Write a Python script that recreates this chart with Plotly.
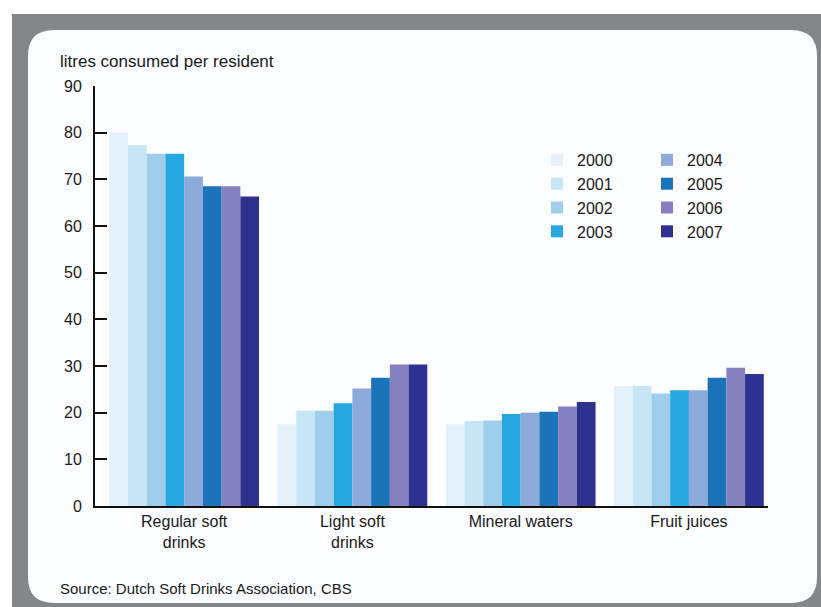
import plotly.graph_objects as go

categories = ["Regular soft<br>drinks", "Light soft<br>drinks", "Mineral waters", "Fruit juices"]
years = ["2000", "2001", "2002", "2003", "2004", "2005", "2006", "2007"]
values = {
    "2000": [80.0, 17.5, 17.5, 25.7],
    "2001": [77.3, 20.4, 18.2, 25.7],
    "2002": [75.5, 20.4, 18.3, 24.1],
    "2003": [75.5, 22.0, 19.7, 24.8],
    "2004": [70.6, 25.2, 20.0, 24.8],
    "2005": [68.5, 27.5, 20.2, 27.5],
    "2006": [68.5, 30.3, 21.3, 29.6],
    "2007": [66.3, 30.3, 22.3, 28.3],
}
colors = ["#e4f1fa", "#c6e5f5", "#9fcdec", "#27a7df", "#8eaadb", "#1b73b9", "#8580c0", "#2e3190"]
y_ticks = [0, 10, 20, 30, 40, 50, 60, 70, 80, 90]

W, H = 821, 607
L, R, T, B = 95, 53, 86, 101
pw, ph = W - L - R, H - T - B

def px(x):
    return (x - L) / pw

def py(y):
    return (H - B - y) / ph

FONT = "Liberation Sans Narrow, Arial Narrow, Liberation Sans, sans-serif"

fig = go.Figure()
for i, yr in enumerate(years):
    fig.add_trace(go.Bar(
        x=categories, y=values[yr], name=yr,
        marker=dict(color=colors[i], line=dict(width=0)),
        legend="legend" if i < 4 else "legend2",
    ))

shapes = []
# grey frame
shapes.append(dict(type="rect", xref="paper", yref="paper", layer="below",
                   x0=px(12), x1=px(821), y0=py(607), y1=py(14),
                   fillcolor="#858688", line=dict(width=0)))
# rounded white panel
x0, x1, y0, y1, r = 28, 817, 30, 603, 26
path = (f"M {px(x0+r)},{py(y0)} L {px(x1-r)},{py(y0)} "
        f"Q {px(x1)},{py(y0)} {px(x1)},{py(y0+r)} "
        f"L {px(x1)},{py(y1-r)} Q {px(x1)},{py(y1)} {px(x1-r)},{py(y1)} "
        f"L {px(x0+r)},{py(y1)} Q {px(x0)},{py(y1)} {px(x0)},{py(y1-r)} "
        f"L {px(x0)},{py(y0+r)} Q {px(x0)},{py(y0)} {px(x0+r)},{py(y0)} Z")
shapes.append(dict(type="path", xref="paper", yref="paper", layer="below",
                   path=path, fillcolor="#fbfdfe", line=dict(width=0)))

annotations = [
    dict(text="litres consumed per resident", xref="paper", yref="paper",
         x=px(58), y=py(62), xanchor="left", yanchor="middle", showarrow=False,
         font=dict(family=FONT, size=17, color="#1a1a1a")),
    dict(text="Source: Dutch Soft Drinks Association, CBS", xref="paper", yref="paper",
         x=px(58), y=py(588), xanchor="left", yanchor="middle", showarrow=False,
         font=dict(family=FONT, size=15, color="#1a1a1a")),
]

fig.update_layout(
    width=W, height=H,
    margin=dict(l=L, r=R, t=T, b=B, pad=0),
    paper_bgcolor="#ffffff",
    plot_bgcolor="rgba(0,0,0,0)",
    barmode="group", bargap=0.11, bargroupgap=0,
    font=dict(family=FONT, size=15, color="#1a1a1a"),
    shapes=shapes, annotations=annotations,
    legend=dict(x=px(537), y=py(143), xanchor="left", yanchor="top",
                bgcolor="rgba(0,0,0,0)", font=dict(family=FONT, size=16),
                tracegroupgap=0, itemwidth=30),
    legend2=dict(x=px(647), y=py(143), xanchor="left", yanchor="top",
                 bgcolor="rgba(0,0,0,0)", font=dict(family=FONT, size=16),
                 tracegroupgap=0, itemwidth=30),
    xaxis=dict(range=[-0.53, 3.47], showline=True, linecolor="#111111", linewidth=2,
               ticks="", showgrid=False, zeroline=False,
               tickfont=dict(family=FONT, size=16, color="#1a1a1a")),
    yaxis=dict(range=[0, 90], tickvals=y_ticks, showline=True, linecolor="#111111",
               linewidth=2, ticks="inside", ticklen=12, tickwidth=2, tickcolor="#111111",
               showgrid=False, zeroline=False, ticklabelstandoff=8,
               tickfont=dict(family=FONT, size=16, color="#1a1a1a")),
)

fig.write_html("out.html")
